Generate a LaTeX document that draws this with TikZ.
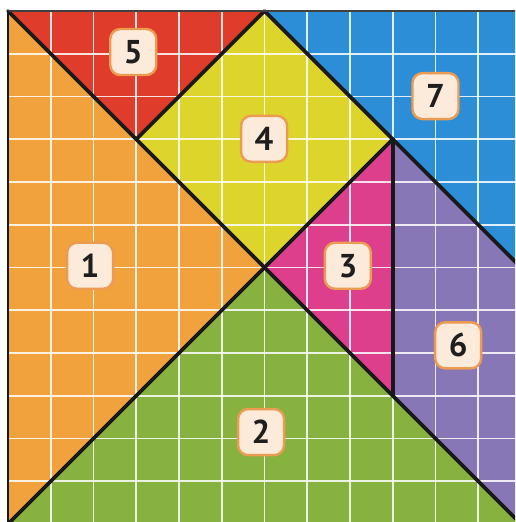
\documentclass[tikz,border=0pt]{standalone}
\usepackage{fontspec}
\setsansfont{PT Sans}
\definecolor{cOrange}{HTML}{F2A23C}
\definecolor{cRed}{HTML}{E03C2B}
\definecolor{cYellow}{HTML}{DDD52C}
\definecolor{cBlue}{HTML}{2C8ED6}
\definecolor{cPurple}{HTML}{8877B7}
\definecolor{cPink}{HTML}{DE3F8C}
\definecolor{cGreen}{HTML}{87B23F}
\definecolor{cBoxFill}{HTML}{FCEADB}
\definecolor{cBoxLine}{HTML}{EC9B52}
\definecolor{cDigit}{HTML}{1E1E1E}
\tikzset{
  gridline/.style={white, opacity=0.85, line width=1.8pt},
  cut/.style={black!90, line width=3.6pt, line cap=round, line join=round},
  tag/.style={rectangle, rounded corners=10pt, minimum width=46pt, minimum height=46pt,
    fill=cBoxFill, draw=cBoxLine, line width=2.4pt, inner sep=0pt,
    font=\sffamily\bfseries\fontsize{33}{33}\selectfont, text=cDigit}
}
\begin{document}
\begin{tikzpicture}
\useasboundingbox (0,0) rectangle (515pt,-522pt);
\fill[white] (0,0) rectangle (515pt,-522pt);
\clip (0,0) rectangle (515pt,-522pt);
\begin{scope}[shift={(8pt,-11pt)}, x=42.75pt, y=-42.75pt]
  \coordinate (TL) at (0,0);
  \coordinate (TM) at (6,0);
  \coordinate (TR) at (12,0);
  \coordinate (BL) at (0,12);
  \coordinate (BR) at (12,12);
  \coordinate (RM) at (12,6);
  \coordinate (C) at (6,6);
  \coordinate (Q1) at (3,3);
  \coordinate (Q2) at (9,3);
  \coordinate (Q3) at (9,9);
  \fill[cOrange] (TL) -- (C) -- (BL) -- cycle;
  \fill[cRed] (TL) -- (TM) -- (Q1) -- cycle;
  \fill[cYellow] (Q1) -- (TM) -- (Q2) -- (C) -- cycle;
  \fill[cBlue] (TM) -- (TR) -- (RM) -- cycle;
  \fill[cPink] (C) -- (Q2) -- (Q3) -- cycle;
  \fill[cPurple] (Q2) -- (RM) -- (BR) -- (Q3) -- cycle;
  \fill[cGreen] (BL) -- (C) -- (BR) -- cycle;
  \foreach \i in {1,...,11} {
    \draw[gridline] (\i,0) -- (\i,12);
    \draw[gridline] (0,\i) -- (12,\i);
  }
  \draw[cut] (TL) -- (BR);
  \draw[cut] (BL) -- (Q2);
  \draw[cut] (Q1) -- (TM) -- (RM);
  \draw[cut] (Q2) -- (Q3);
  \draw[black!75, line width=2pt] (TR) -- (TL);
  \draw[black!90, line width=2.5pt] (TL) -- (BL);
  \node[tag] (n5) at (2.93,0.96) {5};
  \node[tag] (n4) at (5.99,2.99) {4};
  \node[tag] (n7) at (10.0,1.99) {7};
  \node[tag] (n1) at (1.92,5.96) {1};
  \node[tag] (n3) at (7.95,5.96) {3};
  \node[tag] (n6) at (10.53,7.82) {6};
  \node[tag] (n2) at (5.92,9.85) {2};
\end{scope}
\end{tikzpicture}
\end{document}
